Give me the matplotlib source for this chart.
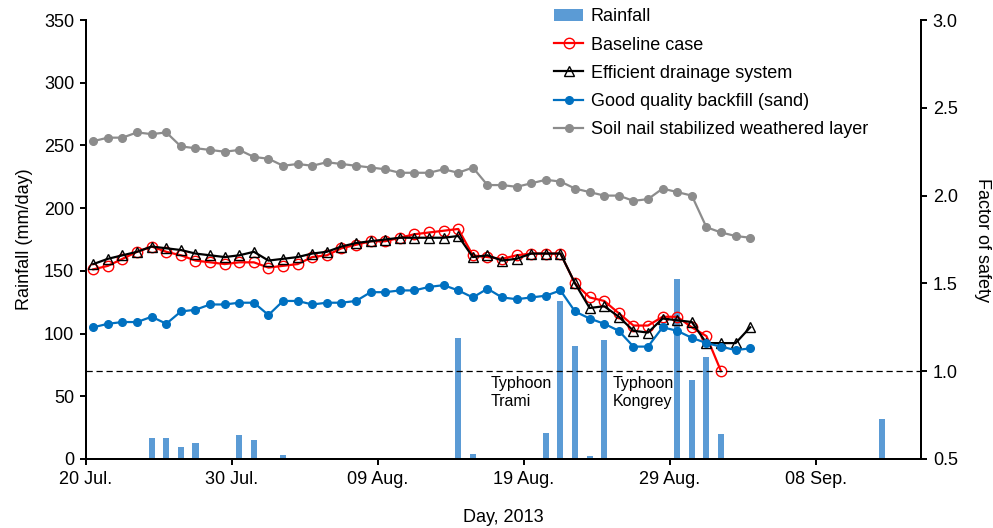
import matplotlib
matplotlib.use('Agg')
import matplotlib.pyplot as plt
import numpy as np

plt.rcParams['font.family'] = ['Liberation Sans', 'DejaVu Sans']
plt.rcParams['font.size'] = 13

# day index counted from 20 Jul. 2013, daily values plotted mid-day
tick_pos = [0, 10, 20, 30, 40, 50]
tick_labels = ['20 Jul.', '30 Jul.', '09 Aug.', '19 Aug.', '29 Aug.', '08 Sep.']

# rainfall (mm/day), days 0..56
rainfall = [0, 0, 0, 0, 17, 17, 9.8, 13, 0, 0,
            19.4, 15.4, 1.1, 3.4, 0, 0, 0, 0, 0, 0,
            0, 0, 0, 0, 0, 96.7, 4.3, 0, 0, 0,
            0, 21, 126, 90.4, 2.1, 95.1, 0, 0, 0, 0,
            143.5, 62.7, 81.6, 20.2, 0, 0, 0, 0, 0, 0,
            0, 0, 0, 1.1, 32.2, 0, 0]

# factor of safety
baseline = [1.58, 1.60, 1.64, 1.68, 1.71, 1.68, 1.66, 1.63, 1.62, 1.61,
            1.62, 1.62, 1.59, 1.60, 1.61, 1.65, 1.66, 1.70, 1.72, 1.74,
            1.74, 1.76, 1.78, 1.79, 1.80, 1.81, 1.66, 1.65, 1.64, 1.66,
            1.67, 1.67, 1.67, 1.50, 1.42, 1.40, 1.33, 1.26, 1.26, 1.31,
            1.31, 1.25, 1.20, 1.00]
drainage = [1.61, 1.64, 1.66, 1.68, 1.71, 1.70, 1.69, 1.67, 1.66, 1.65,
            1.66, 1.68, 1.63, 1.64, 1.65, 1.67, 1.68, 1.71, 1.73, 1.74,
            1.75, 1.76, 1.76, 1.76, 1.76, 1.77, 1.65, 1.66, 1.63, 1.64,
            1.67, 1.67, 1.67, 1.50, 1.36, 1.37, 1.31, 1.23, 1.22, 1.30,
            1.29, 1.28, 1.16, 1.16, 1.16, 1.25]
backfill = [1.25, 1.27, 1.28, 1.28, 1.31, 1.27, 1.34, 1.35, 1.38, 1.38,
            1.39, 1.39, 1.32, 1.40, 1.40, 1.38, 1.39, 1.39, 1.40, 1.45,
            1.45, 1.46, 1.46, 1.48, 1.49, 1.46, 1.42, 1.47, 1.42, 1.41,
            1.42, 1.43, 1.46, 1.34, 1.30, 1.27, 1.23, 1.14, 1.14, 1.25,
            1.23, 1.19, 1.16, 1.14, 1.12, 1.13]
soil_nail = [2.31, 2.33, 2.33, 2.36, 2.35, 2.36, 2.28, 2.27, 2.26, 2.25,
             2.26, 2.22, 2.21, 2.17, 2.18, 2.17, 2.19, 2.18, 2.17, 2.16,
             2.15, 2.13, 2.13, 2.13, 2.15, 2.13, 2.16, 2.06, 2.06, 2.05,
             2.07, 2.09, 2.08, 2.04, 2.02, 2.00, 2.00, 1.97, 1.98, 2.04,
             2.02, 2.00, 1.82, 1.79, 1.77, 1.76]

def days(series):
    return np.arange(len(series)) + 0.5

fig = plt.figure(figsize=(9.93, 5.28), dpi=100)
ax = fig.add_axes([0.0866, 0.1307, 0.8409, 0.8314])
ax2 = ax.twinx()

bars = ax.bar(days(rainfall), rainfall, width=0.42, color='#5B9BD5', label='Rainfall')

ln1, = ax2.plot(days(baseline), baseline, '-o', color='#FF0000', lw=1.6,
                mfc='none', mec='#FF0000', ms=7.5, mew=1.0, label='Baseline case')
ln2, = ax2.plot(days(drainage), drainage, '-^', color='black', lw=1.6,
                mfc='none', mec='black', ms=7.5, mew=1.0, label='Efficient drainage system')
ln3, = ax2.plot(days(backfill), backfill, '-o', color='#0070C0', lw=1.6,
                ms=5.5, label='Good quality backfill (sand)')
ln4, = ax2.plot(days(soil_nail), soil_nail, '-o', color='#8C8C8C', lw=1.6,
                ms=5.5, label='Soil nail stabilized weathered layer')

ax2.axhline(1.0, color='black', ls=(0, (5, 3)), lw=0.9)

ax.set_xlim(0, 57.2)
ax.set_ylim(0, 350)
ax2.set_ylim(0.5, 3.0)
ax.set_xticks(tick_pos)
ax.set_xticklabels(tick_labels)
ax.set_yticks(range(0, 351, 50))
ax2.set_yticks([0.5, 1.0, 1.5, 2.0, 2.5, 3.0])
ax2.set_yticklabels(['0.5', '1.0', '1.5', '2.0', '2.5', '3.0'])

for a in (ax, ax2):
    a.spines['top'].set_visible(False)
    for s in ('left', 'right', 'bottom'):
        a.spines[s].set_linewidth(1.4)
    a.tick_params(direction='out', length=4.5, width=1.4, labelsize=13, pad=4)

ax.set_ylabel('Rainfall (mm/day)', fontsize=13, labelpad=8)
ax2.set_ylabel('Factor of safety', fontsize=13, rotation=270, labelpad=24)
ax.set_xlabel('Day, 2013', fontsize=13, labelpad=15)

ax.text(27.7, 66, 'Typhoon\nTrami', fontsize=11.5, va='top', ha='left', linespacing=1.2)
ax.text(36.1, 66, 'Typhoon\nKongrey', fontsize=11.5, va='top', ha='left', linespacing=1.2)

handles = [bars, ln1, ln2, ln3, ln4]
ax2.legend(handles, [h.get_label() for h in handles], loc='upper left',
           bbox_to_anchor=(0.542, 1.015), bbox_transform=fig.transFigure,
           frameon=False, fontsize=13, handlelength=1.6, handletextpad=0.4,
           labelspacing=0.62)

fig.savefig('out.png', dpi=100)
